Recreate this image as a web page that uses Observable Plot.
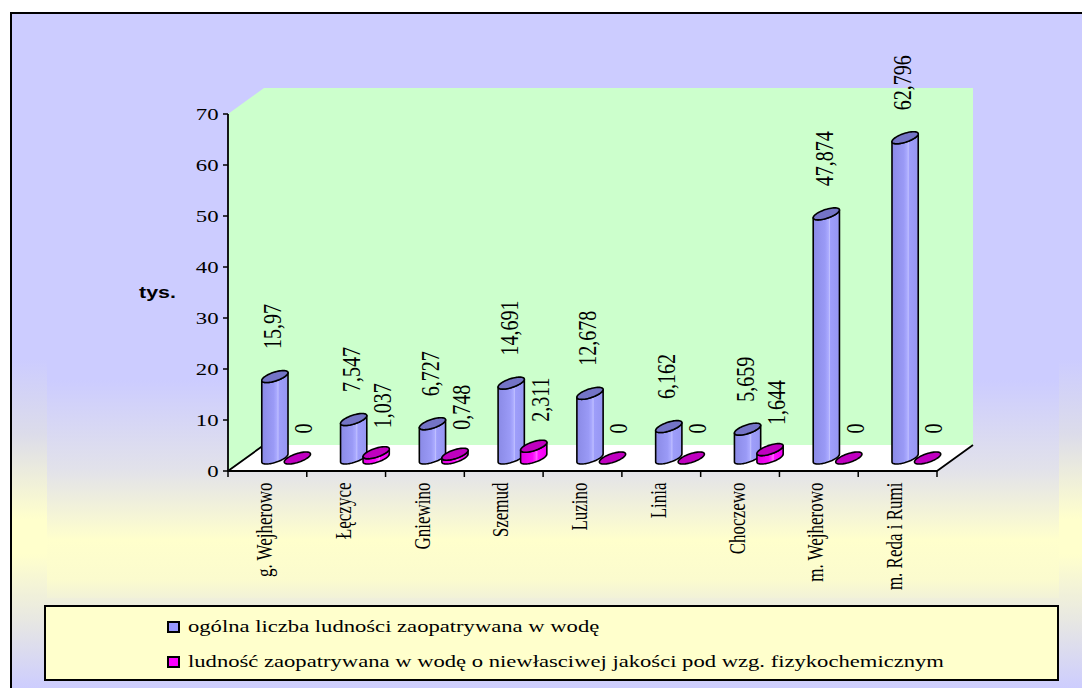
<!DOCTYPE html>
<html>
<head>
<meta charset="utf-8">
<script src="https://cdn.jsdelivr.net/npm/d3@7"></script>
<script src="https://cdn.jsdelivr.net/npm/@observablehq/plot@0.6"></script>
<style>
  html, body { margin: 0; padding: 0; background: #fff; }
  #wrap { position: relative; width: 1082px; height: 688px; overflow: hidden; font-family: "Liberation Serif", "Times New Roman", serif; }
  #frame { position: absolute; left: 10px; top: 12px; width: 1100px; height: 700px; box-sizing: border-box;
    border-left: 2px solid #000; border-top: 2px solid #000;
    background: linear-gradient(to bottom, #CCCCFF 0px, #CCCCFF 345px, #DCDCEA 420px, #FFFFCC 505px, #FFFFCC 540px, #E8E8E2 605px, #CCCCFF 676px); }
  #inner { position: absolute; left: 47px; top: 40px; width: 1012px; height: 558px;
    background: linear-gradient(to bottom, #CCCCFF 0px, #CCCCFF 340px, #E2E2EA 430px, #FFFFCC 500px, #FBFBCE 540px, #F2F2D8 558px); }
  #chart { position: absolute; left: 0; top: 0; }
  #legend { position: absolute; left: 44px; top: 605px; width: 1015px; height: 76px; box-sizing: border-box;
    border: 2px solid #000; background: #FFFFCC; }
  .lg-item { position: absolute; left: 121px; height: 16px; }
  .lg-swatch { position: absolute; left: 0; top: 2px; width: 13px; height: 12px; box-sizing: border-box; border: 2px solid #000; }
  .lg-text { position: absolute; left: 21px; top: -2px; font-size: 17px; line-height: 19px; white-space: nowrap; color: #000;
    transform: scaleX(1.33); transform-origin: left center; }
</style>
</head>
<body>
<div id="wrap">
  <div id="frame"></div>
  <div id="inner"></div>
  <div id="chart"></div>
  <div id="legend"></div>
</div>
<script>
// ---------------- data ----------------
const categories = ["g. Wejherowo", "Łęczyce", "Gniewino", "Szemud", "Luzino", "Linia", "Choczewo", "m. Wejherowo", "m. Reda i Rumi"];
const totalPop = [15.97, 7.547, 6.727, 14.691, 12.678, 6.162, 5.659, 47.874, 62.796];
const badPop = [0, 1.037, 0.748, 2.311, 0, 0, 1.644, 0, 0];
const yTicks = [0, 10, 20, 30, 40, 50, 60, 70];
const yUnit = "tys.";
const seriesNames = [
  "ogólna liczba ludności zaopatrywana w wodę",
  "ludność zaopatrywana w wodę o niewłasciwej jakości pod wzg. fizykochemicznym"
];

// ---------------- style ----------------
const seriesColors = ["#9999FF", "#FF00FF"];
const capColors = ["#7474C6", "#C000C0"];
const DX = 36, DY = -26;          // depth of the 3D box
const BAR_SHIFT = [7.5, 30];      // px from band centre
const CAP_OFF = -13;              // ellipse centre offset
const ER = 10, EU = 8.5, EV = -6; // ellipse shape
const STRETCH = 1.3;
const serif = "Liberation Serif, Times New Roman, serif";

const fmt = v => String(v).replace(".", ",");
const rows = categories.map((c, i) => ({i, cat: c, total: totalPop[i], bad: badPop[i]}));

function scene(index, scales) {
  const x = scales.x, y = scales.y;
  const g = d3.create("svg:g");
  const defs = g.append("defs");
  const addGrad = (id, stops) => {
    const lg = defs.append("linearGradient").attr("id", id)
      .attr("x1", 0).attr("x2", 1).attr("y1", 0).attr("y2", 0);
    stops.forEach(([o, c]) => lg.append("stop").attr("offset", o).attr("stop-color", c));
  };
  addGrad("gBlue", [[0, "#8A8AE6"], [0.45, "#9A9AF6"], [0.58, "#ABABFF"], [0.62, "#C0C0FF"], [0.66, "#9E9EFA"], [1, "#9696F2"]]);
  addGrad("gPink", [[0, "#E000E0"], [0.45, "#F808F8"], [0.58, "#FF40FF"], [0.62, "#FF70FF"], [0.66, "#FF10FF"], [1, "#F000F0"]]);
  const bodyFill = ["url(#gBlue)", "url(#gPink)"];

  const n = categories.length;
  const x0 = x(0), x1 = x(n), y0 = y(yTicks[0]), yT = y(yTicks[yTicks.length - 1]);
  const P = pts => "M" + pts.map(p => p[0] + "," + p[1]).join("L") + "Z";

  g.append("path")
    .attr("d", P([[x0, y0], [x0, yT], [x0 + DX, yT + DY], [x1 + DX, yT + DY], [x1 + DX, y0 + DY], [x0 + DX, y0 + DY]]))
    .attr("fill", "#CCFFCC");
  g.append("path")
    .attr("d", P([[x0, y0], [x1, y0], [x1 + DX, y0 + DY], [x0 + DX, y0 + DY]]))
    .attr("fill", "#FFFFFF");
  g.append("path")
    .attr("d", `M${x0 + DX},${y0 + DY}L${x0},${y0}L${x1},${y0}L${x1 + DX},${y0 + DY}`)
    .attr("fill", "none").attr("stroke", "#000").attr("stroke-width", 1.8).attr("stroke-linejoin", "round");
  g.append("line").attr("x1", x0).attr("x2", x0).attr("y1", y0).attr("y2", yT)
    .attr("stroke", "#000").attr("stroke-width", 1.8);
  yTicks.forEach(t => g.append("line").attr("x1", x0 - 5).attr("x2", x0).attr("y1", y(t)).attr("y2", y(t))
    .attr("stroke", "#000").attr("stroke-width", 1.5));
  d3.range(n + 1).forEach(i => g.append("line").attr("x1", x(i)).attr("x2", x(i)).attr("y1", y0).attr("y2", y0 + 6)
    .attr("stroke", "#000").attr("stroke-width", 1.5));

  const tR = Math.atan2(EU, ER);
  const pt = (cx, cy, t) => [cx + ER * Math.cos(t) + EU * Math.sin(t), cy + EV * Math.sin(t)];
  const N = 28;
  categories.forEach((c, i) => {
    const bc = x(i + 0.5);
    [totalPop, badPop].forEach((arr, s) => {
      const cx = bc + BAR_SHIFT[s];
      const ct = y(arr[i]) + CAP_OFF, cb = y0 + CAP_OFF;
      if (cb - ct > 0.5) {
        const pts = [];
        for (let k = 0; k <= N; k++) pts.push(pt(cx, cb, tR + Math.PI + Math.PI * k / N));
        for (let k = N; k >= 0; k--) pts.push(pt(cx, ct, tR + Math.PI + Math.PI * k / N));
        g.append("path").attr("d", P(pts)).attr("fill", bodyFill[s])
          .attr("stroke", "#000").attr("stroke-width", 1.6).attr("stroke-linejoin", "round");
      }
      const cap = [];
      for (let k = 0; k < 2 * N; k++) cap.push(pt(cx, ct, Math.PI * k / N));
      g.append("path").attr("d", P(cap)).attr("fill", capColors[s])
        .attr("stroke", "#000").attr("stroke-width", 1.6).attr("stroke-linejoin", "round");
    });
  });
  return g.node();
}

const chart = Plot.plot({
  width: 1082,
  height: 688,
  marginLeft: 228,
  marginRight: 145,
  marginTop: 114,
  marginBottom: 217,
  style: {background: "transparent", overflow: "visible"},
  x: {type: "linear", domain: [0, categories.length], axis: null},
  y: {domain: [yTicks[0], yTicks[yTicks.length - 1]], axis: null},
  marks: [
    scene,
    Plot.text(yTicks, {x: () => 0, y: d => d, text: d => String(d), textAnchor: "end", dx: -10,
      fontSize: 17.5, fontFamily: serif, fill: "#000"}),
    Plot.text([yUnit], {x: () => 0, y: () => (yTicks[0] + yTicks[yTicks.length - 1]) / 2, text: d => d,
      textAnchor: "middle", dx: -71, fontSize: 16.5, fontWeight: "bold",
      fontFamily: "Liberation Sans, Arial, sans-serif", fill: "#000"}),
    Plot.text(categories, {x: (d, i) => i + 0.5, y: () => 0, text: d => d, rotate: -90, textAnchor: "end",
      dy: 11, dx: -3, fontSize: 17, fontFamily: serif, fill: "#000"}),
    Plot.text(rows, {x: d => d.i + 0.5, y: d => d.total, text: d => fmt(d.total), rotate: -90, textAnchor: "start",
      dx: 5, dy: -41, fontSize: 20, fontFamily: serif, fill: "#000"}),
    Plot.text(rows, {x: d => d.i + 0.5, y: d => d.bad, text: d => fmt(d.bad), rotate: -90, textAnchor: "start",
      dx: 36, dy: -38, fontSize: 20, fontFamily: serif, fill: "#000"})
  ]
});

// horizontal stretch of the text, as in the reference rendering
chart.querySelectorAll("text").forEach(t => {
  const tr = t.getAttribute("transform") || "";
  if (/rotate/.test(tr)) t.setAttribute("transform", tr + ` scale(1,${STRETCH})`);
  else {
    const xa = parseFloat(t.getAttribute("x") || "0");
    t.setAttribute("transform", tr + ` translate(${xa},0) scale(${STRETCH},1) translate(${-xa},0)`);
  }
});
document.getElementById("chart").appendChild(chart);

// legend
const legend = document.getElementById("legend");
seriesNames.forEach((name, s) => {
  const item = document.createElement("div");
  item.className = "lg-item";
  item.style.top = (12 + s * 35) + "px";
  const sw = document.createElement("div");
  sw.className = "lg-swatch";
  sw.style.background = seriesColors[s];
  const tx = document.createElement("div");
  tx.className = "lg-text";
  tx.textContent = name;
  item.appendChild(sw);
  item.appendChild(tx);
  legend.appendChild(item);
});
</script>
</body>
</html>
